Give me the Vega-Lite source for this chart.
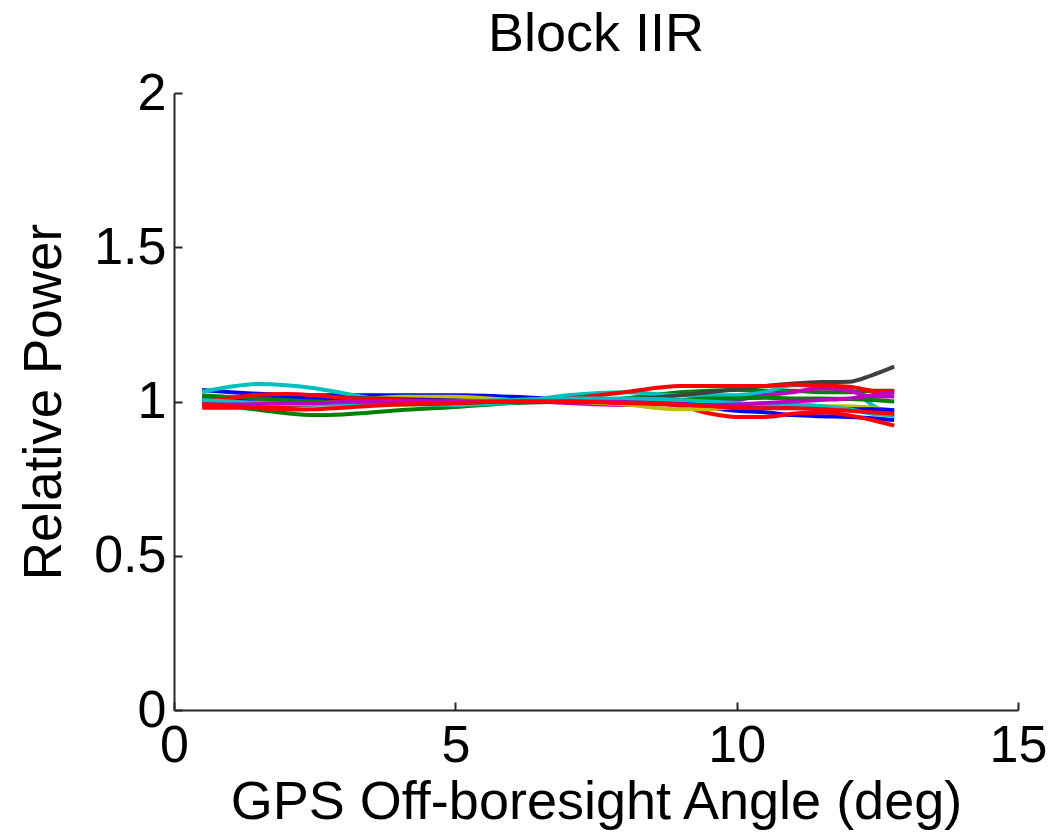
{
  "$schema": "https://vega.github.io/schema/vega-lite/v6.json",
  "autosize": "none",
  "width": 844,
  "height": 617,
  "padding": {"left": 174, "top": 93, "right": 33, "bottom": 125},
  "background": "white",
  "config": {
    "view": {"stroke": null},
    "font": "Liberation Sans"
  },
  "title": {"text": "Block IIR", "fontSize": 54, "fontWeight": "normal", "color": "black", "font": "Liberation Sans", "anchor": "middle", "baseline": "alphabetic", "offset": 0, "dy": 38},
  "datasets": {
    "curves": [
      {"s":"s01","x":0.5,"y":1.037},{"s":"s01","x":1,"y":1.03},{"s":"s01","x":1.5,"y":1.025},{"s":"s01","x":2,"y":1.022},{"s":"s01","x":2.5,"y":1.02},{"s":"s01","x":3,"y":1.02},{"s":"s01","x":4,"y":1.02},{"s":"s01","x":5,"y":1.02},{"s":"s01","x":6,"y":1.015},{"s":"s01","x":7,"y":1.005},{"s":"s01","x":8,"y":0.995},{"s":"s01","x":9,"y":0.99},{"s":"s01","x":9.5,"y":0.98},{"s":"s01","x":10,"y":0.97},{"s":"s01","x":10.5,"y":0.965},{"s":"s01","x":11,"y":0.956},{"s":"s01","x":11.5,"y":0.952},{"s":"s01","x":12,"y":0.95},{"s":"s01","x":12.4,"y":0.946},{"s":"s01","x":12.8,"y":0.94},
      {"s":"s02","x":0.5,"y":0.995},{"s":"s02","x":1,"y":0.985},{"s":"s02","x":1.5,"y":0.973},{"s":"s02","x":2,"y":0.962},{"s":"s02","x":2.5,"y":0.956},{"s":"s02","x":3,"y":0.958},{"s":"s02","x":4,"y":0.972},{"s":"s02","x":5,"y":0.982},{"s":"s02","x":6,"y":0.995},{"s":"s02","x":7,"y":1.0},{"s":"s02","x":8,"y":1.01},{"s":"s02","x":9,"y":1.03},{"s":"s02","x":9.5,"y":1.035},{"s":"s02","x":10,"y":1.037},{"s":"s02","x":10.5,"y":1.035},{"s":"s02","x":11,"y":1.035},{"s":"s02","x":11.5,"y":1.03},{"s":"s02","x":12,"y":1.03},{"s":"s02","x":12.4,"y":1.035},{"s":"s02","x":12.8,"y":1.035},
      {"s":"s03","x":0.5,"y":0.98},{"s":"s03","x":1,"y":0.98},{"s":"s03","x":1.5,"y":0.982},{"s":"s03","x":2,"y":0.985},{"s":"s03","x":2.5,"y":0.99},{"s":"s03","x":3,"y":0.992},{"s":"s03","x":4,"y":0.995},{"s":"s03","x":5,"y":0.998},{"s":"s03","x":6,"y":1.0},{"s":"s03","x":7,"y":1.0},{"s":"s03","x":8,"y":1.0},{"s":"s03","x":9,"y":0.985},{"s":"s03","x":9.5,"y":0.962},{"s":"s03","x":10,"y":0.95},{"s":"s03","x":10.5,"y":0.95},{"s":"s03","x":11,"y":0.96},{"s":"s03","x":11.5,"y":0.965},{"s":"s03","x":12,"y":0.955},{"s":"s03","x":12.4,"y":0.94},{"s":"s03","x":12.8,"y":0.922},
      {"s":"s04","x":0.5,"y":1.032},{"s":"s04","x":1,"y":1.048},{"s":"s04","x":1.5,"y":1.057},{"s":"s04","x":2,"y":1.053},{"s":"s04","x":2.5,"y":1.043},{"s":"s04","x":3,"y":1.027},{"s":"s04","x":4,"y":0.997},{"s":"s04","x":5,"y":0.989},{"s":"s04","x":6,"y":0.996},{"s":"s04","x":7,"y":1.02},{"s":"s04","x":8,"y":1.03},{"s":"s04","x":9,"y":1.02},{"s":"s04","x":9.5,"y":1.02},{"s":"s04","x":10,"y":1.02},{"s":"s04","x":10.5,"y":1.03},{"s":"s04","x":11,"y":1.053},{"s":"s04","x":11.5,"y":1.05},{"s":"s04","x":12,"y":1.04},{"s":"s04","x":12.4,"y":0.99},{"s":"s04","x":12.8,"y":0.951},
      {"s":"s05","x":0.5,"y":1.012},{"s":"s05","x":1,"y":1.01},{"s":"s05","x":1.5,"y":1.008},{"s":"s05","x":2,"y":1.005},{"s":"s05","x":2.5,"y":1.002},{"s":"s05","x":3,"y":1.0},{"s":"s05","x":4,"y":1.0},{"s":"s05","x":5,"y":1.01},{"s":"s05","x":6,"y":1.005},{"s":"s05","x":7,"y":0.995},{"s":"s05","x":8,"y":0.989},{"s":"s05","x":9,"y":0.993},{"s":"s05","x":9.5,"y":0.995},{"s":"s05","x":10,"y":1.005},{"s":"s05","x":10.5,"y":1.02},{"s":"s05","x":11,"y":1.03},{"s":"s05","x":11.5,"y":1.043},{"s":"s05","x":12,"y":1.035},{"s":"s05","x":12.4,"y":1.016},{"s":"s05","x":12.8,"y":1.016},
      {"s":"s06","x":0.5,"y":1.0},{"s":"s06","x":1,"y":1.0},{"s":"s06","x":1.5,"y":0.998},{"s":"s06","x":2,"y":0.996},{"s":"s06","x":2.5,"y":0.995},{"s":"s06","x":3,"y":1.0},{"s":"s06","x":4,"y":1.015},{"s":"s06","x":5,"y":1.015},{"s":"s06","x":6,"y":1.005},{"s":"s06","x":7,"y":1.0},{"s":"s06","x":8,"y":0.99},{"s":"s06","x":9,"y":0.975},{"s":"s06","x":9.5,"y":0.975},{"s":"s06","x":10,"y":0.983},{"s":"s06","x":10.5,"y":0.985},{"s":"s06","x":11,"y":0.985},{"s":"s06","x":11.5,"y":0.985},{"s":"s06","x":12,"y":0.985},{"s":"s06","x":12.4,"y":0.98},{"s":"s06","x":12.8,"y":0.97},
      {"s":"s07","x":0.5,"y":1.01},{"s":"s07","x":1,"y":1.012},{"s":"s07","x":1.5,"y":1.015},{"s":"s07","x":2,"y":1.015},{"s":"s07","x":2.5,"y":1.013},{"s":"s07","x":3,"y":1.012},{"s":"s07","x":4,"y":1.008},{"s":"s07","x":5,"y":1.003},{"s":"s07","x":6,"y":1.0},{"s":"s07","x":7,"y":1.0},{"s":"s07","x":8,"y":1.005},{"s":"s07","x":9,"y":1.02},{"s":"s07","x":9.5,"y":1.03},{"s":"s07","x":10,"y":1.04},{"s":"s07","x":10.5,"y":1.05},{"s":"s07","x":11,"y":1.058},{"s":"s07","x":11.5,"y":1.063},{"s":"s07","x":12,"y":1.064},{"s":"s07","x":12.4,"y":1.085},{"s":"s07","x":12.8,"y":1.113},
      {"s":"s08","x":0.5,"y":1.0},{"s":"s08","x":1,"y":1.005},{"s":"s08","x":1.5,"y":1.01},{"s":"s08","x":2,"y":1.012},{"s":"s08","x":2.5,"y":1.013},{"s":"s08","x":3,"y":1.01},{"s":"s08","x":4,"y":1.005},{"s":"s08","x":5,"y":1.002},{"s":"s08","x":6,"y":1.0},{"s":"s08","x":7,"y":1.0},{"s":"s08","x":8,"y":1.0},{"s":"s08","x":9,"y":0.998},{"s":"s08","x":9.5,"y":0.995},{"s":"s08","x":10,"y":0.99},{"s":"s08","x":10.5,"y":0.985},{"s":"s08","x":11,"y":0.98},{"s":"s08","x":11.5,"y":0.978},{"s":"s08","x":12,"y":0.975},{"s":"s08","x":12.4,"y":0.975},{"s":"s08","x":12.8,"y":0.972},
      {"s":"s09","x":0.5,"y":1.02},{"s":"s09","x":1,"y":1.015},{"s":"s09","x":1.5,"y":1.01},{"s":"s09","x":2,"y":1.005},{"s":"s09","x":2.5,"y":1.0},{"s":"s09","x":3,"y":0.995},{"s":"s09","x":4,"y":0.99},{"s":"s09","x":5,"y":0.995},{"s":"s09","x":6,"y":1.0},{"s":"s09","x":7,"y":1.0},{"s":"s09","x":8,"y":1.0},{"s":"s09","x":9,"y":1.005},{"s":"s09","x":9.5,"y":1.01},{"s":"s09","x":10,"y":1.01},{"s":"s09","x":10.5,"y":1.012},{"s":"s09","x":11,"y":1.01},{"s":"s09","x":11.5,"y":1.01},{"s":"s09","x":12,"y":1.008},{"s":"s09","x":12.4,"y":1.005},{"s":"s09","x":12.8,"y":1.0},
      {"s":"s10","x":0.5,"y":1.0},{"s":"s10","x":1,"y":1.01},{"s":"s10","x":1.5,"y":1.022},{"s":"s10","x":2,"y":1.024},{"s":"s10","x":2.5,"y":1.02},{"s":"s10","x":3,"y":1.012},{"s":"s10","x":4,"y":1.005},{"s":"s10","x":5,"y":1.0},{"s":"s10","x":6,"y":1.0},{"s":"s10","x":7,"y":1.01},{"s":"s10","x":8,"y":1.03},{"s":"s10","x":9,"y":1.05},{"s":"s10","x":9.5,"y":1.05},{"s":"s10","x":10,"y":1.05},{"s":"s10","x":10.5,"y":1.05},{"s":"s10","x":11,"y":1.055},{"s":"s10","x":11.5,"y":1.052},{"s":"s10","x":12,"y":1.048},{"s":"s10","x":12.4,"y":1.035},{"s":"s10","x":12.8,"y":1.03},
      {"s":"s11","x":0.5,"y":1.005},{"s":"s11","x":1,"y":1.0},{"s":"s11","x":1.5,"y":0.995},{"s":"s11","x":2,"y":0.992},{"s":"s11","x":2.5,"y":0.99},{"s":"s11","x":3,"y":0.99},{"s":"s11","x":4,"y":0.995},{"s":"s11","x":5,"y":1.0},{"s":"s11","x":6,"y":1.005},{"s":"s11","x":7,"y":1.01},{"s":"s11","x":8,"y":1.01},{"s":"s11","x":9,"y":1.005},{"s":"s11","x":9.5,"y":1.0},{"s":"s11","x":10,"y":0.995},{"s":"s11","x":10.5,"y":0.99},{"s":"s11","x":11,"y":0.99},{"s":"s11","x":11.5,"y":0.985},{"s":"s11","x":12,"y":0.975},{"s":"s11","x":12.4,"y":0.96},{"s":"s11","x":12.8,"y":0.955},
      {"s":"s12","x":0.5,"y":0.99},{"s":"s12","x":1,"y":0.99},{"s":"s12","x":1.5,"y":0.992},{"s":"s12","x":2,"y":0.995},{"s":"s12","x":2.5,"y":0.995},{"s":"s12","x":3,"y":0.998},{"s":"s12","x":4,"y":1.0},{"s":"s12","x":5,"y":1.0},{"s":"s12","x":6,"y":1.0},{"s":"s12","x":7,"y":1.0},{"s":"s12","x":8,"y":0.998},{"s":"s12","x":9,"y":0.99},{"s":"s12","x":9.5,"y":0.988},{"s":"s12","x":10,"y":0.99},{"s":"s12","x":10.5,"y":0.995},{"s":"s12","x":11,"y":1.0},{"s":"s12","x":11.5,"y":1.005},{"s":"s12","x":12,"y":1.01},{"s":"s12","x":12.4,"y":1.02},{"s":"s12","x":12.8,"y":1.03},
      {"s":"s13","x":0.5,"y":0.99},{"s":"s13","x":1,"y":0.985},{"s":"s13","x":1.5,"y":0.978},{"s":"s13","x":2,"y":0.974},{"s":"s13","x":2.5,"y":0.975},{"s":"s13","x":3,"y":0.98},{"s":"s13","x":4,"y":0.99},{"s":"s13","x":5,"y":0.995},{"s":"s13","x":6,"y":1.0},{"s":"s13","x":7,"y":1.0},{"s":"s13","x":8,"y":0.995},{"s":"s13","x":9,"y":0.99},{"s":"s13","x":9.5,"y":0.985},{"s":"s13","x":10,"y":0.98},{"s":"s13","x":10.5,"y":0.978},{"s":"s13","x":11,"y":0.978},{"s":"s13","x":11.5,"y":0.975},{"s":"s13","x":12,"y":0.97},{"s":"s13","x":12.4,"y":0.965},{"s":"s13","x":12.8,"y":0.96}
    ]
  },
  "data": {"name": "curves"},
  "mark": {"type": "line", "strokeWidth": 4, "interpolate": "monotone", "clip": true},
  "encoding": {
    "x": {
      "field": "x", "type": "quantitative",
      "scale": {"domain": [0, 15], "nice": false, "zero": false},
      "axis": {
        "title": "GPS Off-boresight Angle (deg)",
        "values": [0, 5, 10, 15],
        "format": "d",
        "grid": false,
        "domainColor": "#262626", "domainWidth": 2,
        "tickColor": "#262626", "tickWidth": 2, "tickSize": -8,
        "labelFontSize": 52, "labelColor": "black", "labelFont": "Liberation Sans", "labelPadding": 18,
        "labelFlush": false, "labelOverlap": false,
        "titleFontSize": 54, "titleFontWeight": "normal", "titleColor": "black", "titleFont": "Liberation Sans", "titlePadding": 4
      }
    },
    "y": {
      "field": "y", "type": "quantitative",
      "scale": {"domain": [0, 2], "nice": false, "zero": false},
      "axis": {
        "title": "Relative Power",
        "values": [0, 0.5, 1, 1.5, 2],
        "format": "~g",
        "grid": false,
        "domainColor": "#262626", "domainWidth": 2,
        "tickColor": "#262626", "tickWidth": 2, "tickSize": -8,
        "labelFontSize": 52, "labelColor": "black", "labelFont": "Liberation Sans", "labelPadding": 16,
        "labelFlush": false, "labelOverlap": false,
        "titleFontSize": 53, "titleFontWeight": "normal", "titleColor": "black", "titleFont": "Liberation Sans", "titlePadding": 22
      }
    },
    "color": {
      "field": "s", "type": "nominal", "legend": null,
      "scale": {
        "domain": ["s01","s02","s03","s04","s05","s06","s07","s08","s09","s10","s11","s12","s13"],
        "range": ["#0000FF","#008000","#FF0000","#00BFBF","#BF00BF","#BFBF00","#404040","#0000FF","#008000","#FF0000","#00BFBF","#BF00BF","#FF0000"]
      }
    }
  }
}
